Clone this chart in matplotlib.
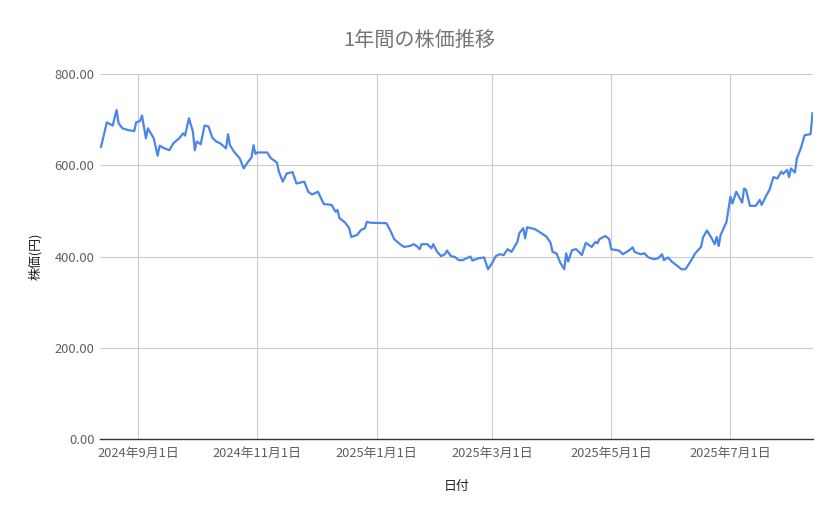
#!/usr/bin/env python3
"""
1年間の株価推移 - line chart of daily closing price
"""

import pandas as pd
import matplotlib
matplotlib.use('Agg')
import matplotlib.pyplot as plt
import matplotlib.dates as mdates
from matplotlib.ticker import FuncFormatter

plt.rcParams['font.family'] = ['Noto Sans CJK JP', 'DejaVu Sans']

# values
dates = [
    '2024-08-13', '2024-08-16', '2024-08-19', '2024-08-21', '2024-08-22', '2024-08-24',
    '2024-08-27', '2024-08-30', '2024-08-31', '2024-09-02', '2024-09-03', '2024-09-05',
    '2024-09-06', '2024-09-09', '2024-09-11', '2024-09-12', '2024-09-14', '2024-09-17',
    '2024-09-19', '2024-09-22', '2024-09-24', '2024-09-25', '2024-09-27', '2024-09-29',
    '2024-09-30', '2024-10-01', '2024-10-03', '2024-10-05', '2024-10-07', '2024-10-09',
    '2024-10-11', '2024-10-13', '2024-10-16', '2024-10-17', '2024-10-18', '2024-10-20',
    '2024-10-23', '2024-10-25', '2024-10-27', '2024-10-29', '2024-10-30', '2024-10-31',
    '2024-11-01', '2024-11-06', '2024-11-08', '2024-11-11', '2024-11-12', '2024-11-14',
    '2024-11-16', '2024-11-19', '2024-11-21', '2024-11-25', '2024-11-27', '2024-11-29',
    '2024-12-02', '2024-12-05', '2024-12-09', '2024-12-11', '2024-12-12', '2024-12-13',
    '2024-12-16', '2024-12-18', '2024-12-19', '2024-12-22', '2024-12-24', '2024-12-26',
    '2024-12-27', '2024-12-29', '2025-01-06', '2025-01-08', '2025-01-10', '2025-01-13',
    '2025-01-15', '2025-01-18', '2025-01-20', '2025-01-22', '2025-01-23', '2025-01-24',
    '2025-01-27', '2025-01-29', '2025-01-30', '2025-02-01', '2025-02-03', '2025-02-05',
    '2025-02-06', '2025-02-08', '2025-02-10', '2025-02-12', '2025-02-14', '2025-02-18',
    '2025-02-19', '2025-02-22', '2025-02-25', '2025-02-27', '2025-03-01', '2025-03-03',
    '2025-03-05', '2025-03-07', '2025-03-09', '2025-03-11', '2025-03-14', '2025-03-15',
    '2025-03-17', '2025-03-18', '2025-03-19', '2025-03-23', '2025-03-26', '2025-03-29',
    '2025-03-31', '2025-04-01', '2025-04-03', '2025-04-05', '2025-04-07', '2025-04-08',
    '2025-04-09', '2025-04-11', '2025-04-13', '2025-04-15', '2025-04-16', '2025-04-18',
    '2025-04-21', '2025-04-23', '2025-04-24', '2025-04-25', '2025-04-28', '2025-04-30',
    '2025-05-01', '2025-05-05', '2025-05-07', '2025-05-10', '2025-05-12', '2025-05-13',
    '2025-05-16', '2025-05-18', '2025-05-20', '2025-05-23', '2025-05-25', '2025-05-27',
    '2025-05-28', '2025-05-30', '2025-06-01', '2025-06-04', '2025-06-06', '2025-06-08',
    '2025-06-11', '2025-06-13', '2025-06-16', '2025-06-17', '2025-06-19', '2025-06-21',
    '2025-06-23', '2025-06-24', '2025-06-25', '2025-06-26', '2025-06-29', '2025-07-01',
    '2025-07-02', '2025-07-04', '2025-07-07', '2025-07-08', '2025-07-09', '2025-07-11',
    '2025-07-14', '2025-07-16', '2025-07-17', '2025-07-19', '2025-07-21', '2025-07-23',
    '2025-07-25', '2025-07-27', '2025-07-28', '2025-07-30', '2025-07-31', '2025-08-01',
    '2025-08-03', '2025-08-04', '2025-08-06', '2025-08-08', '2025-08-11', '2025-08-12',
]

prices = [
    640, 694, 687, 721, 692, 681,
    677, 675, 694, 697, 709, 659,
    681, 659, 621, 643, 638, 633,
    648, 659, 670, 665, 703, 674,
    633, 652, 646, 687, 685, 660,
    652, 648, 637, 668, 644, 630,
    615, 593, 606, 617, 644, 625,
    628, 628, 615, 606, 586, 564,
    582, 585, 560, 564, 542, 536,
    542, 515, 513, 498, 502, 484,
    474, 462, 443, 447, 458, 462,
    476, 474, 473, 457, 438, 427,
    421, 423, 427, 421, 416, 427,
    427, 418, 427, 410, 401, 405,
    413, 401, 399, 392, 392, 400,
    391, 396, 398, 372, 385, 401,
    405, 403, 416, 410, 432, 451,
    462, 440, 464, 460, 452, 443,
    430, 410, 407, 386, 372, 407,
    389, 414, 416, 408, 403, 430,
    421, 432, 429, 438, 445, 438,
    416, 413, 405, 413, 420, 410,
    405, 407, 398, 394, 396, 405,
    392, 398, 389, 379, 372, 372,
    392, 407, 421, 442, 457, 443,
    427, 443, 423, 447, 476, 531,
    516, 542, 518, 549, 546, 511,
    511, 524, 513, 531, 546, 574,
    571, 586, 581, 590, 574, 593,
    584, 615, 637, 666, 668, 714,
]

tick_dates = ['2024-09-01', '2024-11-01', '2025-01-01',
              '2025-03-01', '2025-05-01', '2025-07-01']
y_ticks = [0, 200, 400, 600, 800]

df = pd.DataFrame({'date': pd.to_datetime(dates), 'price': prices})

fig = plt.figure(figsize=(8.39, 5.19), dpi=100)
ax = fig.add_axes([100 / 839, 80 / 519, 713 / 839, 365 / 519])

ax.plot(df['date'], df['price'], color='#4a86e8', linewidth=1.6, zorder=3)

ax.set_xlim(df['date'].iloc[0] - pd.Timedelta(hours=12), df['date'].iloc[-1] + pd.Timedelta(hours=6))
ax.set_ylim(0, 800)

ax.set_yticks(y_ticks)
ax.yaxis.set_major_formatter(FuncFormatter(lambda v, p: f'{v:.2f}'))
ax.set_xticks(pd.to_datetime(tick_dates))
ax.xaxis.set_major_formatter(FuncFormatter(
    lambda v, p: (lambda d: f'{d.year}年{d.month}月{d.day}日')(mdates.num2date(v))))

ax.grid(True, color='#cccccc', linewidth=0.8, zorder=0)
ax.tick_params(axis='both', length=0, labelsize=9.3, labelcolor='#5f5f5f')
ax.tick_params(axis='x', pad=6)
ax.tick_params(axis='y', pad=4)

for side in ['top', 'right', 'left']:
    ax.spines[side].set_visible(False)
ax.spines['bottom'].set_color('#333333')
ax.spines['bottom'].set_linewidth(1.0)
ax.spines['bottom'].set_zorder(4)

ax.set_xlabel('日付', fontsize=9.3, color='#222222', labelpad=14)
ax.set_ylabel('株価(円)', fontsize=9.3, color='#222222', labelpad=9)

fig.text(0.5, 1 - 40 / 519, '1年間の株価推移', ha='center', va='center',
         fontsize=14.5, color='#757575')

plt.savefig('out.png', dpi=100)
plt.close()
